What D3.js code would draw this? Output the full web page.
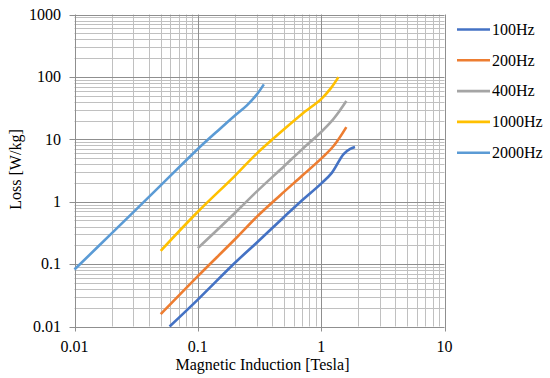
<script src="https://d3js.org/d3.v7.min.js"></script>

<style>
  body { margin: 0; background: #fff; }
  text { font-family: "Liberation Serif", "Times New Roman", serif; font-size: 16px; fill: #000; }
  .minor { stroke: #c0c0c0; stroke-width: 1px; }
  .major { stroke: #8f8f8f; stroke-width: 1px; }
  .curve { fill: none; stroke-width: 2.6px; stroke-linejoin: round; stroke-linecap: butt; }
</style>

<body>
<div id="chart"></div>

<script>
  // series
  var seriesNames = ["100Hz", "200Hz", "400Hz", "1000Hz", "2000Hz"];
  var seriesColors = ["#4472C4", "#ED7D31", "#A5A5A5", "#FFC000", "#5B9BD5"];

  var b100  = [0.059, 0.1, 0.2, 0.3, 0.5, 0.68, 1, 1.22, 1.52, 1.72, 1.88];
  var p100  = [0.01, 0.027, 0.105, 0.22, 0.57, 1.0, 1.95, 2.9, 5.8, 7.0, 7.5];

  var b200  = [0.05, 0.1, 0.2, 0.3, 0.466, 0.7, 1, 1.26, 1.6];
  var p200  = [0.0158, 0.064, 0.25, 0.57, 1.27, 2.6, 4.9, 7.8, 15.7];

  var b400  = [0.1, 0.2, 0.3, 0.5, 0.7, 1, 1.2, 1.4, 1.6];
  var p400  = [0.18, 0.66, 1.45, 3.7, 6.9, 13.1, 19, 28, 41];

  var b1000 = [0.05, 0.1, 0.2, 0.3, 0.5, 0.7, 1, 1.2, 1.38];
  var p1000 = [0.163, 0.69, 2.6, 5.9, 14.5, 25.5, 44, 66, 99];

  var b2000 = [0.01, 0.02, 0.05, 0.1, 0.15, 0.2, 0.25, 0.3, 0.343];
  var p2000 = [0.082, 0.31, 1.83, 7.0, 14.5, 24, 35, 52, 76];

  var xTicks = [0.01, 0.1, 1, 10];
  var yTicks = [0.01, 0.1, 1, 10, 100, 1000];
  var xTickLabels = ["0.01", "0.1", "1", "10"];
  var yTickLabels = ["0.01", "0.1", "1", "10", "100", "1000"];

  var xTitle = "Magnetic Induction [Tesla]";
  var yTitle = "Loss [W/kg]";

  var bs = [b100, b200, b400, b1000, b2000];
  var ps = [p100, p200, p400, p1000, p2000];

  var width = 550,
      height = 378;

  var svg = d3.select("#chart")
      .append("svg")
      .attr("width", width)
      .attr("height", height);

  var x = d3.scaleLog().domain([0.01, 10]).range([74.5, 444.5]);
  var y = d3.scaleLog().domain([0.01, 1000]).range([326.5, 14.5]);

  // minor grid values: 2..9 in every decade
  function minors(lo, hi) {
    var out = [];
    for (var e = lo; e < hi; e++) {
      for (var k = 2; k <= 9; k++) out.push(k * Math.pow(10, e));
    }
    return out;
  }

  var grid = svg.append("g");

  grid.selectAll(".mx").data(minors(-2, 1)).enter().append("line")
      .attr("class", "minor")
      .attr("x1", function(d) { return Math.round(x(d)) + 0.5; })
      .attr("x2", function(d) { return Math.round(x(d)) + 0.5; })
      .attr("y1", y(1000)).attr("y2", y(0.01));

  grid.selectAll(".my").data(minors(-2, 3)).enter().append("line")
      .attr("class", "minor")
      .attr("y1", function(d) { return Math.round(y(d)) + 0.5; })
      .attr("y2", function(d) { return Math.round(y(d)) + 0.5; })
      .attr("x1", x(0.01)).attr("x2", x(10));

  grid.selectAll(".Mx").data(xTicks).enter().append("line")
      .attr("class", "major")
      .attr("x1", function(d) { return Math.round(x(d)) + 0.5; })
      .attr("x2", function(d) { return Math.round(x(d)) + 0.5; })
      .attr("y1", y(1000)).attr("y2", y(0.01) + 5);

  grid.selectAll(".My").data(yTicks).enter().append("line")
      .attr("class", "major")
      .attr("y1", function(d) { return Math.round(y(d)) + 0.5; })
      .attr("y2", function(d) { return Math.round(y(d)) + 0.5; })
      .attr("x1", x(0.01) - 5).attr("x2", x(10));

  // tick labels
  svg.selectAll(".xl").data(xTicks).enter().append("text")
      .attr("x", function(d) { return x(d); })
      .attr("y", 351.5)
      .attr("text-anchor", "middle")
      .text(function(d, i) { return xTickLabels[i]; });

  svg.selectAll(".yl").data(yTicks).enter().append("text")
      .attr("x", 61)
      .attr("y", function(d) { return y(d); })
      .attr("dy", "0.33em")
      .attr("text-anchor", "end")
      .text(function(d, i) { return yTickLabels[i]; });

  // axis titles
  svg.append("text")
      .attr("x", 262.5)
      .attr("y", 370)
      .attr("text-anchor", "middle")
      .text(xTitle);

  svg.append("text")
      .attr("transform", "translate(21,169.5) rotate(-90)")
      .attr("text-anchor", "middle")
      .text(yTitle);

  // curves
  var line = d3.line()
      .x(function(d) { return x(d[0]); })
      .y(function(d) { return y(d[1]); })
      .curve(d3.curveCatmullRom.alpha(0.5));

  seriesNames.forEach(function(name, i) {
    var pts = bs[i].map(function(b, j) { return [b, ps[i][j]]; });
    svg.append("path")
        .attr("class", "curve")
        .attr("stroke", seriesColors[i])
        .attr("d", line(pts));
  });

  // legend
  var legend = svg.append("g")
      .selectAll("g")
      .data(seriesNames)
      .enter().append("g")
      .attr("transform", function(d, i) { return "translate(0," + (29.5 + i * 30.8) + ")"; });

  legend.append("line")
      .attr("x1", 457).attr("x2", 490)
      .attr("stroke-width", 2.6)
      .attr("stroke", function(d, i) { return seriesColors[i]; });

  legend.append("text")
      .attr("x", 492)
      .attr("dy", "0.33em")
      .text(function(d) { return d; });
</script>
</body>
